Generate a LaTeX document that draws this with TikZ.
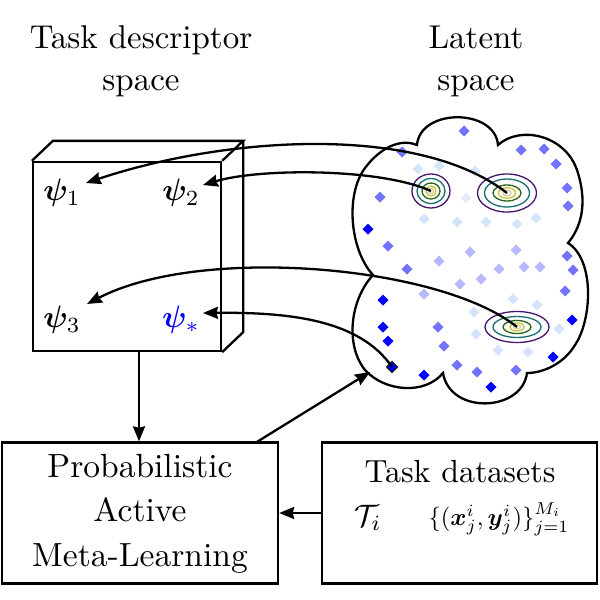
\documentclass[tikz,border=0pt]{standalone}
\usepackage{amsmath,amssymb,bm}
\usetikzlibrary{arrows.meta,calc}
\definecolor{cpurple}{RGB}{70,20,110}
\definecolor{cteal}{RGB}{25,110,115}
\definecolor{cgreen}{RGB}{40,100,25}
\definecolor{cyellow}{RGB}{200,195,60}
\definecolor{cbeige}{RGB}{215,205,170}
\definecolor{lightdot}{RGB}{212,228,250}
\newcommand{\sbx}[3]{\scalebox{#1}{\renewcommand{\arraystretch}{#2}\begin{tabular}{@{}c@{}}#3\end{tabular}}}
\newcommand{\smx}[2]{\scalebox{#1}{$#2$}}
\tikzset{
  mainline/.style={line width=2.3pt},
  arr/.style={mainline,-{Stealth[length=15pt,width=12pt,inset=1.5pt]}},
  boxnode/.style={draw,line width=2.3pt,inner sep=0pt},
  lbl/.style={inner sep=0pt},
  ring/.style={line width=1.3pt},
  dotfull/.style={fill=blue},
  dotmed/.style={fill=blue!55},
  dotml/.style={fill=blue!28},
  dotlight/.style={fill=lightdot},
  dotvl/.style={fill=blue!9},
}
\newcommand{\dia}[3]{\fill[#1] (#2,#3) +(-5.5,0) -- +(0,-5.5) -- +(5.5,0) -- +(0,5.5) -- cycle;}
\begin{document}
\begin{tikzpicture}[x=1pt,y=-1pt,line join=miter]
\useasboundingbox (0,0) rectangle (600,600);

% titles
\node[lbl] (title1) at (141,61) {\sbx{3.3}{1.08}{Task descriptor\\space}};
\node[lbl] (title2) at (476,61) {\sbx{3.3}{1.08}{Latent\\space}};

% cube
\node[boxnode,minimum width=188pt,minimum height=189pt] (cube) at (127,256.5) {};
\draw[mainline] (cube.north west) -- ++(21,-20) coordinate (bk1) -- ($(cube.north east)+(21,-20)$) coordinate (bk2) -- (cube.north east);
\draw[mainline] (bk2) -- ($(cube.south east)+(21,-20)$) coordinate (bk3) -- (cube.south east);

\node[lbl] (psi1) at (62,193) {\smx{3.1}{\bm{\psi}_1}};
\node[lbl] (psi2) at (181,193) {\smx{3.1}{\bm{\psi}_2}};
\node[lbl] (psi3) at (62,320) {\smx{3.1}{\bm{\psi}_3}};
\node[lbl,text=blue] (psis) at (181,320) {\smx{3.1}{\bm{\psi}_*}};

% cloud
\draw[mainline,fill=white]
  (417,145) .. controls (420,108) and (495,108) .. (498,145)
  .. controls (520,125) and (565,135) .. (577,170)
  .. controls (587,200) and (583,225) .. (568,243)
  .. controls (595,260) and (592,320) .. (575,345)
  .. controls (565,362) and (545,373) .. (527,373)
  .. controls (522,412) and (450,415) .. (443,373)
  .. controls (425,395) and (385,392) .. (365,370)
  .. controls (345,345) and (350,300) .. (373,275)
  .. controls (350,250) and (345,195) .. (365,168)
  .. controls (380,148) and (400,138) .. (417,145) -- cycle;

% dots
\foreach \x/\y in {418/169,439/166,475/171,424/219,457/222,486/222,517/224,536/218,513/299,537/305,474/312,476/334,559/329,498/350,528/352}{\dia{dotlight}{\x}{\y}}
\dia{dotvl}{466}{198}
\foreach \x/\y in {470/252,516/250,439/261,499/269,524/267,540/267,481/279,460/284,424/294}{\dia{dotml}{\x}{\y}}
\foreach \x/\y in {464/131,521/150,544/149,556/164,402/152,380/197,567/188,568/206,388/246,567/256,407/269,573/270,565/291,438/327,444/346,457/365,477/372,516/370}{\dia{dotmed}{\x}{\y}}
\foreach \x/\y in {368/229,383/300,383/327,388/341,572/320,553/357,424/375,491/387}{\dia{dotfull}{\x}{\y}}
\coordinate (src) at (392,367);
\filldraw[fill=blue,draw=black,line width=0.8pt] (src) +(-5.5,0) -- +(0,-5.5) -- +(5.5,0) -- +(0,5.5) -- cycle;

% contour ellipses
\coordinate (g1) at (431,191);
\coordinate (g2) at (507,193);
\coordinate (g3) at (517,327);
\draw[ring,cpurple] (g1) ellipse [x radius=19,y radius=17];
\draw[ring,cteal] (g1) ellipse [x radius=14,y radius=12.5];
\draw[ring,cgreen] (g1) ellipse [x radius=9,y radius=8];
\draw[ring,cyellow] (g1) ellipse [x radius=5,y radius=5];
\draw[ring,cbeige] (g1) ellipse [x radius=2.5,y radius=2.5];
\draw[ring,cpurple] (g2) ellipse [x radius=29.5,y radius=19];
\draw[ring,cteal] (g2) ellipse [x radius=22.5,y radius=14];
\draw[ring,cgreen] (g2) ellipse [x radius=14,y radius=8];
\draw[ring,cyellow] (g2) ellipse [x radius=8.5,y radius=5.3];
\draw[ring,cbeige] (g2) ellipse [x radius=4,y radius=3];
\draw[ring,cpurple] (g3) ellipse [x radius=32,y radius=15.5];
\draw[ring,cteal] (g3) ellipse [x radius=24,y radius=10.5];
\draw[ring,cgreen] (g3) ellipse [x radius=14,y radius=6.5];
\draw[ring,cyellow] (g3) ellipse [x radius=7,y radius=4];
\draw[ring,cbeige] (g3) ellipse [x radius=3.5,y radius=2];

% arrow tips
\coordinate (t1) at (86,183);
\coordinate (t2) at (203,185);
\coordinate (t3) at (87,304);
\coordinate (ts) at (203,313);
\draw[arr] (g2) .. controls (420,125) and (230,135) .. (t1);
\draw[arr] (g1) .. controls (380,168) and (260,168) .. (t2);
\draw[arr] (g3) .. controls (440,265) and (200,245) .. (t3);
\draw[arr] (src) .. controls (360,320) and (290,312) .. (ts);

% boxes
\node[boxnode,minimum width=276pt,minimum height=141pt] (pam) at (140,513) {\sbx{3.35}{1.1}{Probabilistic\\Active\\Meta-Learning}};
\node[boxnode,minimum width=275pt,minimum height=141pt] (tasks) at (459.5,513) {};
\node[lbl] (tdtitle) at (460,475) {\sbx{3.2}{1}{Task datasets}};
\node[lbl] (tdT) at (368,518) {\smx{3.1}{\mathcal{T}_i}};
\node[lbl] (tdset) at (499,519) {\smx{2.45}{\{(\bm{x}^i_j,\bm{y}^i_j)\}_{j=1}^{M_i}}};

\coordinate (d1) at (139,351);
\draw[arr] (d1) -- (d1 |- pam.north);
\coordinate (pstart) at (256,442.5);
\coordinate (cin) at (370,372);
\draw[arr] (pstart) -- (cin);
\draw[arr] (tasks.west) -- (pam.east);
\end{tikzpicture}
\end{document}
